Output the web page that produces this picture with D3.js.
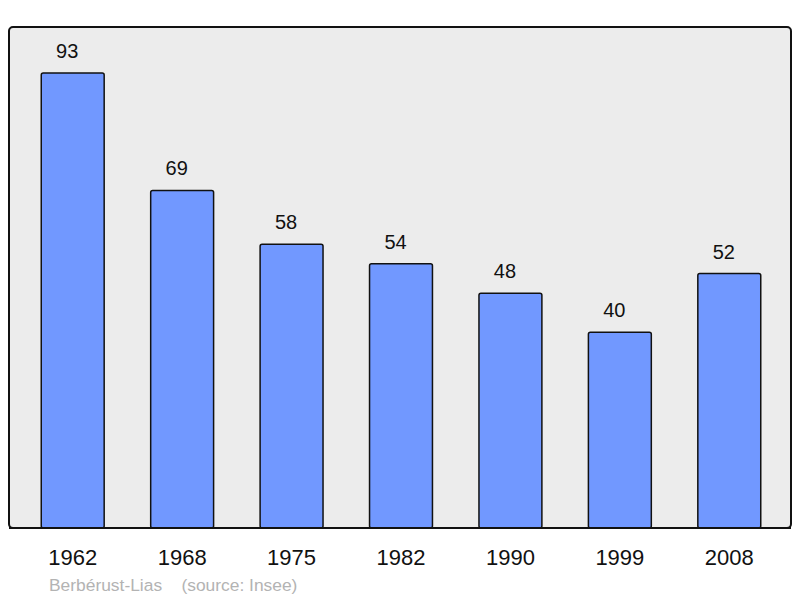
<!DOCTYPE html>
<html>
<head>
<meta charset="utf-8">
<script src="https://d3js.org/d3.v7.min.js"></script>
<style>
  html, body { margin: 0; padding: 0; background: #ffffff; }
  svg { display: block; font-family: "Liberation Sans", Arial, sans-serif; }
</style>
</head>
<body>
<svg id="chart" width="800" height="598"></svg>
<script>
const years = ["1962", "1968", "1975", "1982", "1990", "1999", "2008"];
const population = [93, 69, 58, 54, 48, 40, 52];
const sourceLabel = "Berbérust-Lias\u00a0\u00a0\u00a0\u00a0(source: Insee)";

const svg = d3.select("#chart");
const frame = { x: 9, y: 27, w: 782, h: 501 };

const x = d3.scaleBand()
  .domain(years)
  .range([18, 784])
  .paddingInner(0.425)
  .paddingOuter(0.2125);

const y = d3.scaleLinear()
  .domain([0, 102.4])
  .range([frame.y + frame.h, frame.y]);

svg.append("rect")
  .attr("x", frame.x).attr("y", frame.y)
  .attr("width", frame.w).attr("height", frame.h)
  .attr("rx", 4)
  .attr("fill", "#ececec")
  .attr("stroke", "#111")
  .attr("stroke-width", 2);

const data = years.map((yr, i) => ({ year: yr, value: population[i] }));

svg.selectAll("rect.bar")
  .data(data)
  .join("rect")
  .attr("class", "bar")
  .attr("x", d => x(d.year))
  .attr("y", d => y(d.value))
  .attr("width", x.bandwidth())
  .attr("height", d => y(0) - y(d.value))
  .attr("rx", 2)
  .attr("fill", "#7198ff")
  .attr("stroke", "#111")
  .attr("stroke-width", 1.5);

svg.selectAll("text.val")
  .data(data)
  .join("text")
  .attr("class", "val")
  .attr("x", d => x(d.year) + x.bandwidth() / 2)
  .attr("dx", -5.5)
  .attr("y", d => y(d.value) - 15)
  .attr("text-anchor", "middle")
  .attr("font-size", 20)
  .attr("fill", "#111")
  .text(d => d.value);

svg.append("line")
  .attr("x1", frame.x).attr("x2", frame.x + frame.w)
  .attr("y1", frame.y + frame.h).attr("y2", frame.y + frame.h)
  .attr("stroke", "#111").attr("stroke-width", 2);

const xAxis = d3.axisBottom(x).tickSize(0).tickPadding(0);
const gx = svg.append("g")
  .attr("transform", `translate(0, ${frame.y + frame.h})`)
  .call(xAxis);
gx.select(".domain").remove();
gx.selectAll("text")
  .attr("dy", null)
  .attr("y", 37)
  .attr("font-size", 22)
  .attr("font-family", "Liberation Sans, Arial, sans-serif")
  .attr("fill", "#111");

svg.append("text")
  .attr("x", 49)
  .attr("y", 591)
  .attr("font-size", 17.4)
  .attr("fill", "#b3b3b3")
  .text(sourceLabel);
</script>
</body>
</html>
